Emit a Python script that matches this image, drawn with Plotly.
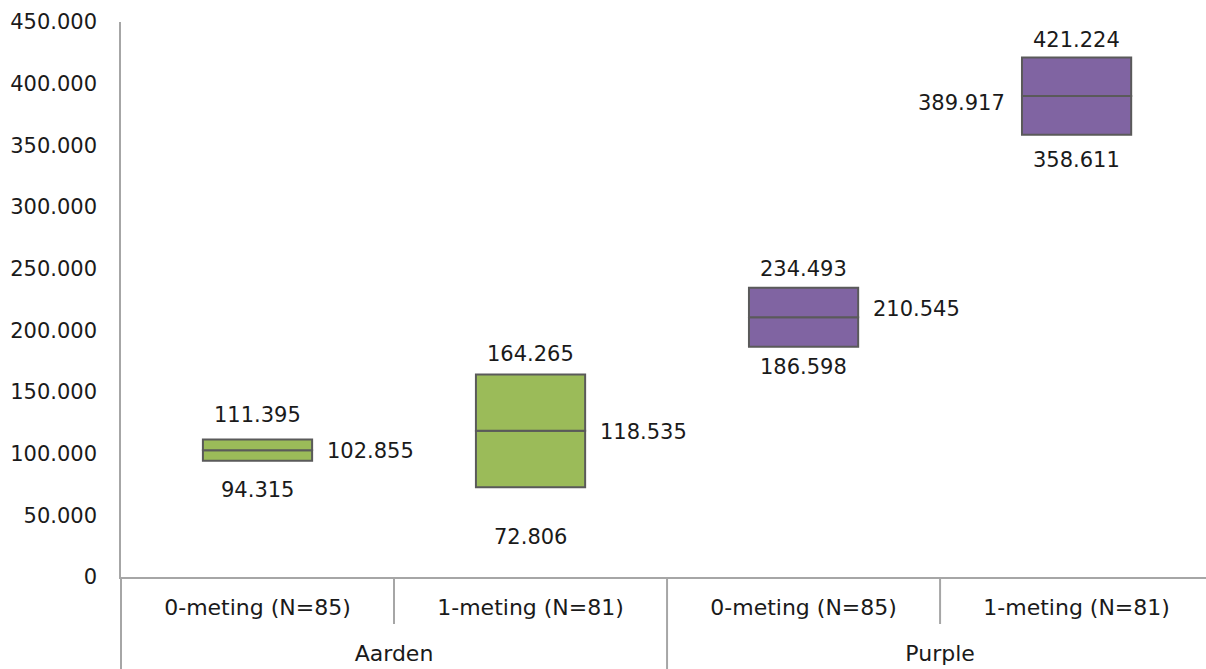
import plotly.graph_objects as go

# ---- data ----
groups = ["Aarden", "Aarden", "Purple", "Purple"]
subcats = ["0-meting (N=85)", "1-meting (N=81)", "0-meting (N=85)", "1-meting (N=81)"]
low_vals = [94315, 72806, 186598, 358611]
median_vals = [102855, 118535, 210545, 389917]
high_vals = [111395, 164265, 234493, 421224]
y_ticks = [0, 50000, 100000, 150000, 200000, 250000, 300000, 350000, 400000, 450000]

# ---- style ----
fill_colors = ["#9BBB59", "#9BBB59", "#8064A2", "#8064A2"]
edge = "#5A5A5A"
axis_col = "#A6A6A6"
font_family = "DejaVu Sans, Verdana, sans-serif"
fs = 21
fs_cat = 22
txt_col = "#1A1A1A"
# pixel offsets of the data labels (style only)
high_shift = [25, 20, 19, 17]
low_shift = [29, 50, 20, 25]
med_shift = [-1, -1, 8, -7]
med_side = ["right", "right", "right", "left"]
x_range = [-0.5, 3.474]


def fmt(v):
    return f"{v:,}".replace(",", ".")


# level-1 labels get an empty second line so the group names sit lower
sub_display = [s + "<br>&nbsp;" for s in subcats]
x_mc = [groups, sub_display]

fig = go.Figure()
fig.add_trace(go.Bar(
    x=x_mc, y=[m - l for m, l in zip(median_vals, low_vals)], base=low_vals,
    width=0.4, marker=dict(color=fill_colors, line=dict(color=edge, width=2)),
    hoverinfo="skip", showlegend=False))
fig.add_trace(go.Bar(
    x=x_mc, y=[h - m for h, m in zip(high_vals, median_vals)], base=median_vals,
    width=0.4, marker=dict(color=fill_colors, line=dict(color=edge, width=2)),
    hoverinfo="skip", showlegend=False))

ann = []
for i in range(len(subcats)):
    ann.append(dict(x=i, y=high_vals[i], xref="x", yref="y", text=fmt(high_vals[i]),
                    showarrow=False, yanchor="middle", yshift=high_shift[i]))
    ann.append(dict(x=i, y=low_vals[i], xref="x", yref="y", text=fmt(low_vals[i]),
                    showarrow=False, yanchor="middle", yshift=-low_shift[i]))
    if med_side[i] == "right":
        ann.append(dict(x=i, y=median_vals[i], xref="x", yref="y", text=fmt(median_vals[i]),
                        showarrow=False, yanchor="middle", xanchor="left",
                        xshift=67, yshift=med_shift[i]))
    else:
        ann.append(dict(x=i, y=median_vals[i], xref="x", yref="y", text=fmt(median_vals[i]),
                        showarrow=False, yanchor="middle", xanchor="right",
                        xshift=-70, yshift=med_shift[i]))


def xfrac(b):
    return (b - x_range[0]) / (x_range[1] - x_range[0])


# separators below the axis: short ones between sub-categories, long ones between groups
shapes = []
for b in [0.5, 2.5]:
    shapes.append(dict(type="line", xref="paper", yref="paper", x0=xfrac(b), x1=xfrac(b),
                       y0=0, y1=-47 / 555, line=dict(color=axis_col, width=2)))
for b in [-0.5, 1.5]:
    shapes.append(dict(type="line", xref="paper", yref="paper", x0=xfrac(b), x1=xfrac(b),
                       y0=0, y1=-95 / 555, line=dict(color=axis_col, width=2)))

fig.update_layout(
    width=1206, height=669,
    margin=dict(l=121, r=0, t=22, b=92),
    paper_bgcolor="white", plot_bgcolor="white",
    barmode="overlay", separators=",.",
    font=dict(family=font_family, size=fs, color=txt_col),
    annotations=ann, shapes=shapes,
)
fig.update_yaxes(range=[0, 450000], tickvals=y_ticks, tickformat=",d",
                 showgrid=False, zeroline=False, showline=True, linecolor=axis_col,
                 linewidth=1.5, ticks="", ticklabelstandoff=18,
                 tickfont=dict(family=font_family, size=fs, color=txt_col))
fig.update_xaxes(type="multicategory", range=x_range, showgrid=False, showline=True,
                 linecolor=axis_col, linewidth=1.5, ticks="", ticklabelstandoff=10,
                 showdividers=False,
                 tickfont=dict(family=font_family, size=fs_cat, color=txt_col))

fig.write_html("out.html")
